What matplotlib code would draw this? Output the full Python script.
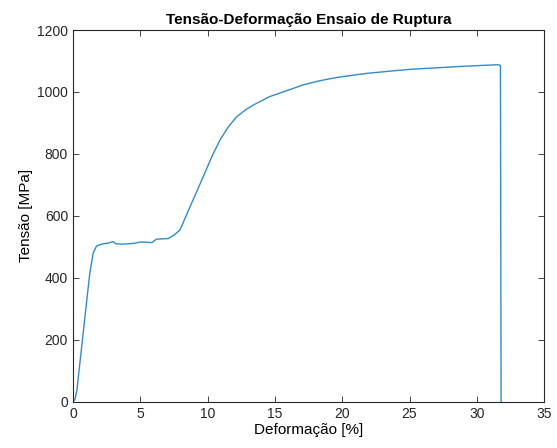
import numpy as np
import matplotlib
matplotlib.use("Agg")
import matplotlib.pyplot as plt

plt.rcParams['font.family'] = ['Liberation Sans', 'DejaVu Sans']

# Curva tensão-deformação
deformacao = [0.0, 0.15, 0.3, 0.6, 1.0, 1.25, 1.5, 1.75, 2.2, 2.6, 2.97, 3.2, 3.6, 4.1,
              4.6, 5.0, 5.5, 5.85, 6.2, 6.6, 7.08, 7.5, 7.95, 8.3, 8.8, 9.68, 10.3,
              10.92, 11.5, 12.16, 12.8, 13.4, 14.6, 16.0, 17.1, 18.3, 19.6, 21.8,
              23.5, 25.0, 27.0, 29.0, 30.5, 31.6, 31.75, 31.8]
tensao = [0, 8, 40, 160, 318, 415, 480, 503, 510, 512, 517, 510, 509, 510,
          512, 516, 515, 514, 525, 526, 527, 538, 555, 590, 640, 727, 790,
          845, 885, 920, 942, 958, 985, 1006, 1023, 1036, 1047, 1060,
          1067, 1073, 1078, 1083, 1086, 1088, 1085, 0]

fig = plt.figure(figsize=(5.57, 4.48), dpi=100)
ax = fig.add_axes([0.131, 0.103, 0.846, 0.830])

ax.plot(deformacao, tensao, color='#2f8ccb', lw=1.0)

ax.set_xlim(0, 35)
ax.set_ylim(0, 1200)
ax.set_xticks(np.arange(0, 36, 5))
ax.set_yticks(np.arange(0, 1201, 200))
ax.tick_params(direction='in', top=True, right=True, labelsize=10, length=4,
               width=0.6, colors='#262626')
for s in ax.spines.values():
    s.set_linewidth(0.8)
    s.set_color('#262626')

ax.set_title('Tensão-Deformação Ensaio de Ruptura', fontsize=11, fontweight='bold', pad=4)
ax.set_xlabel('Deformação [%]', fontsize=11, labelpad=2)
ax.set_ylabel('Tensão [MPa]', fontsize=11, labelpad=3)

fig.savefig('out.png', dpi=100)
